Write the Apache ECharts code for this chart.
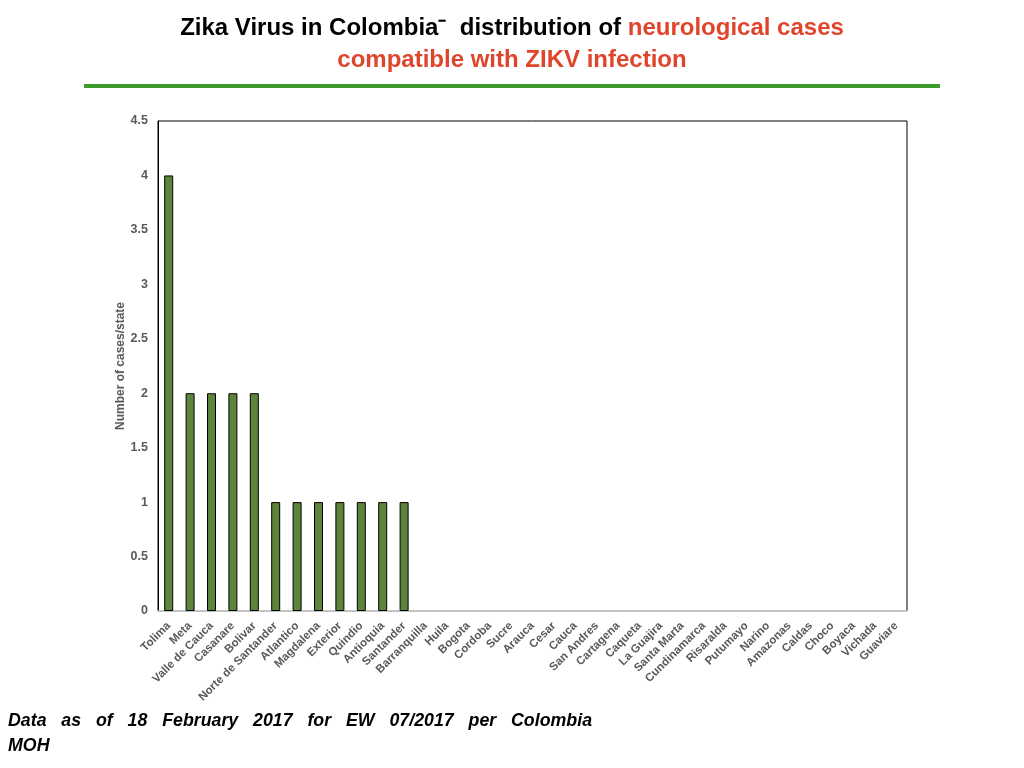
<!DOCTYPE html>
<html>
<head>
<meta charset="utf-8">
<style>
  html, body { margin: 0; padding: 0; background: #fff; }
  #chart { width: 1024px; height: 768px; }
</style>
<script src="https://cdn.jsdelivr.net/npm/echarts@6/dist/echarts.min.js"></script>
</head>
<body>
<div id="chart"></div>
<script>
var states = ['Tolima', 'Meta', 'Valle de Cauca', 'Casanare', 'Bolivar', 'Norte de Santander',
  'Atlantico', 'Magdalena', 'Exterior', 'Quindio', 'Antioquia', 'Santander', 'Barranquilla',
  'Huila', 'Bogota', 'Cordoba', 'Sucre', 'Arauca', 'Cesar', 'Cauca', 'San Andres', 'Cartagena',
  'Caqueta', 'La Guajira', 'Santa Marta', 'Cundinamarca', 'Risaralda', 'Putumayo', 'Narino',
  'Amazonas', 'Caldas', 'Choco', 'Boyaca', 'Vichada', 'Guaviare'];
var cases = [4, 2, 2, 2, 2, 1, 1, 1, 1, 1, 1, 1, 0, 0, 0, 0, 0, 0, 0, 0, 0, 0, 0, 0, 0, 0, 0, 0, 0, 0, 0, 0, 0, 0, 0];

var chart = echarts.init(document.getElementById('chart'), null, { renderer: 'canvas' });
var font = 'Liberation Sans, Arial, sans-serif';

var option = {
  animation: false,
  textStyle: { fontFamily: font },
  grid: {
    left: 158, right: 117, top: 121, bottom: 157,
    show: true, borderColor: '#000', borderWidth: 1, backgroundColor: '#fff'
  },
  xAxis: {
    type: 'category',
    data: states,
    axisLine: { lineStyle: { color: '#d9d9d9', width: 1.5 } },
    axisTick: { show: false },
    axisLabel: {
      interval: 0, rotate: 45, color: '#595959', fontWeight: 'bold',
      fontSize: 11.5, fontFamily: font, margin: 13
    }
  },
  yAxis: {
    type: 'value',
    min: 0, max: 4.5, interval: 0.5,
    name: 'Number of cases/state',
    nameLocation: 'middle',
    nameGap: 31,
    nameMoveOverlap: false,
    nameTextStyle: { color: '#595959', fontWeight: 'bold', fontSize: 12, fontFamily: font },
    splitLine: { show: false },
    axisLine: { show: true, lineStyle: { color: '#000', width: 1 } },
    axisTick: { show: false },
    axisLabel: { color: '#595959', fontWeight: 'bold', fontSize: 12.5, fontFamily: font, margin: 10 }
  },
  series: [{
    type: 'bar',
    // empty states get no outline, as in the source chart
    data: cases.map(function (v) {
      return { value: v, itemStyle: { borderWidth: v > 0 ? 1 : 0 } };
    }),
    barWidth: 9,
    itemStyle: { color: '#5e843b', borderColor: '#000', borderWidth: 1 }
  }],
  graphic: [
    {
      type: 'text', left: 'center', top: 16,
      style: {
        text: '{b|Zika Virus in Colombia\u207B  distribution of }{r|neurological cases}',
        rich: {
          b: { fill: '#000', fontSize: 24, fontWeight: 'bold', fontFamily: font },
          r: { fill: '#e0452c', fontSize: 24, fontWeight: 'bold', fontFamily: font }
        }
      }
    },
    {
      type: 'text', left: 'center', top: 48,
      style: {
        text: 'compatible with ZIKV infection',
        fill: '#e0452c', fontSize: 24, fontWeight: 'bold', fontFamily: font
      }
    },
    {
      type: 'rect', shape: { x: 84, y: 84, width: 856, height: 4 },
      style: { fill: '#3f9a2e' }
    },
    {
      type: 'text', left: 8, top: 709,
      style: {
        text: 'Data   as   of   18   February   2017   for   EW   07/2017   per   Colombia\nMOH',
        fill: '#000', fontSize: 17.8, fontWeight: 'bold', fontStyle: 'italic',
        fontFamily: font, lineHeight: 25
      }
    }
  ]
};

chart.setOption(option);
window.addEventListener('resize', chart.resize);
</script>
</body>
</html>
